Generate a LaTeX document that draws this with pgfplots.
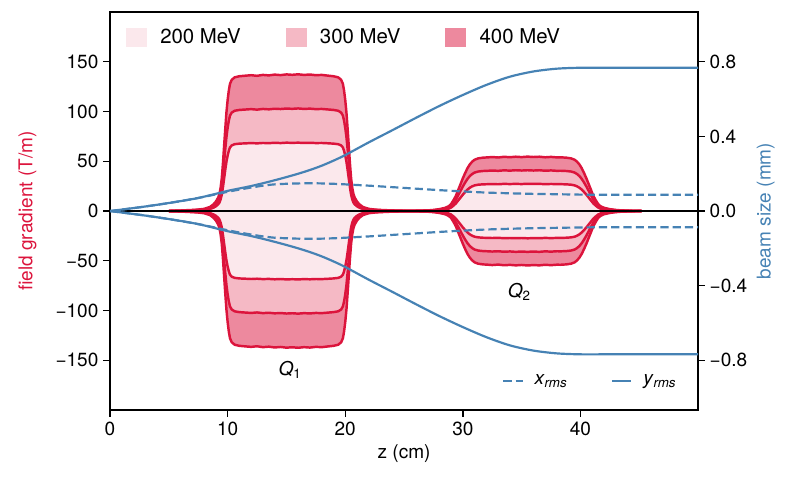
\documentclass[border=0pt]{standalone}
\usepackage{fontspec}
\setmainfont{TeX Gyre Heros}
\usepackage{pgfplots}
\pgfplotsset{compat=1.18}
\usepackage{pgfplotstable}
\usepgfplotslibrary{fillbetween}

\definecolor{crim}{RGB}{220,20,60}
\definecolor{steel}{RGB}{70,130,180}

% Quadrupole gradient profiles along z (T/m) for three beam energies
\pgfplotstableread{
z g400 g300 g200
5.0 0.27 0.20 0.14
6.0 0.54 0.41 0.27
7.0 1.09 0.82 0.54
7.5 1.50 1.12 0.75
8.0 2.18 1.63 1.09
8.5 4.08 3.06 2.04
8.8 6.80 5.10 3.40
9.0 9.52 7.14 4.76
9.2 13.6 10.2 6.80
9.3 17.0 12.75 8.50
9.4 23.12 17.34 11.56
9.5 32.64 24.48 16.32
9.6 47.6 35.7 23.8
9.7 65.28 48.96 32.64
9.8 82.96 62.22 41.48
9.9 99.28 74.46 49.64
10.0 111.52 83.64 55.76
10.1 121.04 90.78 60.52
10.2 127.84 95.88 63.92
10.35 131.92 98.94 65.96
10.6 134.37 100.78 67.18
11.0 135.46 101.59 67.73
11.5 136.0 102.0 68.0
12.0 136.5 102.4 68.3
12.5 135.9 101.9 68.0
13.0 136.8 102.6 68.4
13.5 136.3 102.2 68.2
14.0 137.1 102.8 68.6
14.5 136.6 102.5 68.3
15.0 137.3 103.0 68.7
15.5 136.9 102.7 68.5
16.0 137.4 103.1 68.7
16.5 136.8 102.6 68.4
17.0 137.2 102.9 68.6
17.5 136.5 102.4 68.3
18.0 136.8 102.6 68.4
18.5 136.1 102.1 68.1
19.0 135.46 101.59 67.73
19.4 134.37 100.78 67.18
19.65 131.92 98.94 65.96
19.8 127.84 95.88 63.92
19.9 121.04 90.78 60.52
20.0 111.52 83.64 55.76
20.1 99.28 74.46 49.64
20.2 82.96 62.22 41.48
20.3 65.28 48.96 32.64
20.4 47.6 35.7 23.8
20.5 32.64 24.48 16.32
20.6 23.12 17.34 11.56
20.7 17.0 12.75 8.50
20.8 13.6 10.2 6.80
21.0 9.52 7.14 4.76
21.2 6.80 5.10 3.40
21.5 4.08 3.06 2.04
22.0 2.18 1.63 1.09
22.5 1.50 1.12 0.75
23.0 1.09 0.82 0.54
24.0 0.60 0.45 0.30
25.0 0.38 0.29 0.19
26.0 0.41 0.31 0.20
27.0 0.65 0.49 0.32
27.5 1.08 0.81 0.54
28.0 1.89 1.42 0.95
28.5 3.24 2.43 1.62
28.8 4.86 3.65 2.43
29.0 7.02 5.27 3.51
29.2 10.8 8.10 5.40
29.4 15.12 11.34 7.56
29.6 21.06 15.80 10.53
29.8 27.0 20.25 13.5
30.0 32.94 24.71 16.47
30.2 38.34 28.76 19.17
30.4 43.2 32.4 21.6
30.6 46.98 35.24 23.49
30.8 49.68 37.26 24.84
31.0 51.57 38.68 25.79
31.3 52.92 39.69 26.46
31.7 53.62 40.22 26.81
32.2 54.0 40.5 27.0
32.5 54.3 40.7 27.1
33.0 53.8 40.4 26.9
33.5 54.5 40.9 27.3
34.0 54.1 40.6 27.1
34.5 54.6 41.0 27.3
35.0 54.2 40.7 27.1
35.5 54.7 41.0 27.4
36.0 54.3 40.7 27.2
36.5 54.6 41.0 27.3
37.0 54.0 40.5 27.0
37.5 54.4 40.8 27.2
38.0 53.9 40.4 27.0
38.3 54.0 40.5 27.0
38.8 53.62 40.22 26.81
39.2 52.92 39.69 26.46
39.5 51.57 38.68 25.79
39.7 49.68 37.26 24.84
39.9 46.98 35.24 23.49
40.1 43.2 32.4 21.6
40.3 38.34 28.76 19.17
40.5 32.94 24.71 16.47
40.7 27.0 20.25 13.5
40.9 21.06 15.80 10.53
41.1 15.12 11.34 7.56
41.3 10.8 8.10 5.40
41.5 7.02 5.27 3.51
41.7 4.86 3.65 2.43
42.0 3.24 2.43 1.62
42.5 1.89 1.42 0.95
43.0 1.08 0.81 0.54
43.5 0.65 0.49 0.32
44.5 0.27 0.20 0.14
45.2 0.11 0.08 0.05
}\gradtable

% RMS beam envelopes (mm)
\pgfplotstableread{
z xrms yrms
0 0 0
2.5 0.020 0.020
5 0.043 0.043
7.5 0.070 0.070
10 0.103 0.108
11 0.115 0.121
12 0.126 0.134
13 0.136 0.149
14 0.143 0.165
15 0.146 0.182
16 0.148 0.200
17 0.149 0.220
18 0.148 0.243
19 0.146 0.270
20 0.143 0.300
22 0.136 0.368
24 0.128 0.433
26 0.120 0.499
28 0.112 0.563
30 0.105 0.622
32 0.099 0.676
34 0.095 0.720
36 0.092 0.748
38 0.090 0.763
40 0.088 0.768
42 0.087 0.768
46 0.087 0.768
50 0.087 0.768
}\beamtable

\pgfplotsset{
  common/.style={
    scale only axis, width=430.8bp, height=291.6bp,
    xmin=0, xmax=50,
    tick align=outside, major tick length=5bp,
    every tick/.style={black, line width=1bp},
    axis line style={line width=1.2bp},
    /pgf/number format/assume math mode=true,
    legend cell align=left,
  },
  gline/.style={crim, line width=1.8bp, line join=round, forget plot},
}

\begin{document}
\begin{tikzpicture}[font=\fontsize{14}{16}\selectfont]

\begin{axis}[
  common,
  ymin=-200, ymax=200,
  tick pos=left,
  xtick={0,10,20,30,40}, xticklabels={0,10,20,30,40},
  ytick={-150,-100,-50,0,50,100,150},
  yticklabels={−150,−100,−50,0,50,100,150},
  xlabel={z (cm)},
  ylabel={field gradient (T/m)},
  ylabel style={text=crim},
  ylabel shift=7bp,
  legend columns=3,
  legend style={draw=none, fill=none, at={(0.02,0.937)}, anchor=west,
    font=\fontsize{15}{17}\selectfont,
    /tikz/every odd column/.append style={column sep=8bp},
    /tikz/every even column/.append style={column sep=31bp}},
]
% filled bands, widest first
\addplot[name path=u4, draw=none, forget plot] table[x=z, y=g400] {\gradtable};
\addplot[name path=l4, draw=none, forget plot] table[x=z, y expr=-\thisrow{g400}] {\gradtable};
\addplot[crim!50, forget plot] fill between[of=u4 and l4];
\addplot[name path=u3, draw=none, forget plot] table[x=z, y=g300] {\gradtable};
\addplot[name path=l3, draw=none, forget plot] table[x=z, y expr=-\thisrow{g300}] {\gradtable};
\addplot[crim!30, forget plot] fill between[of=u3 and l3];
\addplot[name path=u2, draw=none, forget plot] table[x=z, y=g200] {\gradtable};
\addplot[name path=l2, draw=none, forget plot] table[x=z, y expr=-\thisrow{g200}] {\gradtable};
\addplot[crim!10, forget plot] fill between[of=u2 and l2];

% outlines
\addplot[gline] table[x=z, y=g400] {\gradtable};
\addplot[gline] table[x=z, y expr=-\thisrow{g400}] {\gradtable};
\addplot[gline] table[x=z, y=g300] {\gradtable};
\addplot[gline] table[x=z, y expr=-\thisrow{g300}] {\gradtable};
\addplot[gline] table[x=z, y=g200] {\gradtable};
\addplot[gline] table[x=z, y expr=-\thisrow{g200}] {\gradtable};
\addplot[black, line width=2bp, forget plot] coordinates {(0,0) (50,0)};

\node at (axis cs:15.3,-160) {\textit{Q}\textsubscript{1}};
\node at (axis cs:34.8,-81) {\textit{Q}\textsubscript{2}};

\addlegendimage{legend image code/.code={\fill[crim!10] (0bp,-6.5bp) rectangle (14.6bp,6.5bp);}}
\addlegendentry{200 MeV}
\addlegendimage{legend image code/.code={\fill[crim!30] (0bp,-6.5bp) rectangle (14.6bp,6.5bp);}}
\addlegendentry{300 MeV}
\addlegendimage{legend image code/.code={\fill[crim!50] (0bp,-6.5bp) rectangle (14.6bp,6.5bp);}}
\addlegendentry{400 MeV}
\end{axis}

\begin{axis}[
  common,
  ymin=-1.0667, ymax=1.0667,
  axis x line=none, axis y line*=right,
  ytick={-0.8,-0.4,0,0.4,0.8},
  yticklabels={−0.8,−0.4,0.0,0.4,0.8},
  ylabel={beam size (mm)},
  ylabel style={text=steel},
  legend columns=2,
  legend image code/.code={\draw[#1] (0bp,0bp) -- (14bp,0bp);},
  legend style={draw=none, fill=none, at={(0.975,0.073)}, anchor=east,
    /tikz/every odd column/.append style={column sep=6bp},
    /tikz/every even column/.append style={column sep=30bp}},
]
\addplot[steel, line width=1.6bp, dash pattern=on 6bp off 3bp, smooth] table[x=z, y=xrms] {\beamtable};
\addlegendentry{\textit{x}\textsubscript{\textit{rms}}}
\addplot[steel, line width=1.6bp, smooth] table[x=z, y=yrms] {\beamtable};
\addlegendentry{\textit{y}\textsubscript{\textit{rms}}}
\addplot[steel, line width=1.6bp, dash pattern=on 6bp off 3bp, smooth, forget plot] table[x=z, y expr=-\thisrow{xrms}] {\beamtable};
\addplot[steel, line width=1.6bp, smooth, forget plot] table[x=z, y expr=-\thisrow{yrms}] {\beamtable};
\end{axis}

\pgfresetboundingbox
\path[use as bounding box] (-80.6bp,-50.5bp) rectangle (497.4bp,300.4bp);
\end{tikzpicture}
\end{document}
